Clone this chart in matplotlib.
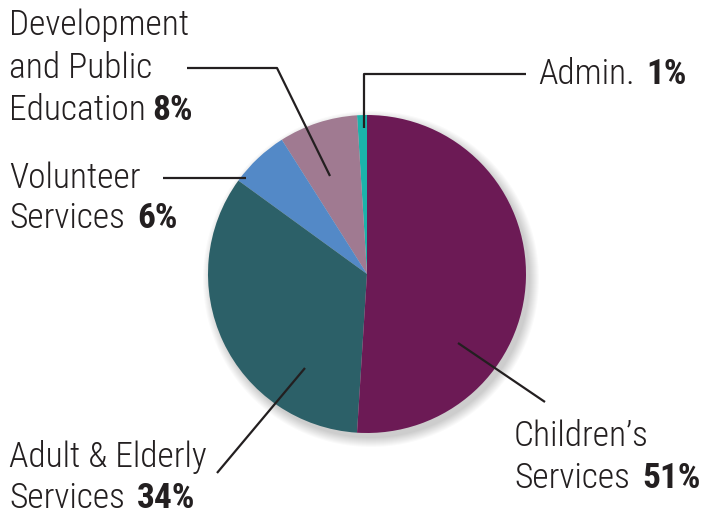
import matplotlib.pyplot as plt
from matplotlib.patches import Circle

# slices, counter-clockwise from 12 o'clock
labels = ["Admin.", "Development and Public Education", "Volunteer Services",
          "Adult & Elderly Services", "Children's Services"]
values = [1, 8, 6, 34, 51]
colors = ["#1bb3ab", "#a07a91", "#5389c7", "#2c6068", "#6c1a55"]

W, H = 709, 514
fig = plt.figure(figsize=(W / 100, H / 100), dpi=100)
ax = fig.add_axes([0, 0, 1, 1])

cx, cy, r = 367, H - 274, 159

# soft shadow down-right
for k in range(10):
    ax.add_patch(Circle((cx + 4, cy - 5), r + 9 - k, color="#000000",
                        alpha=0.02, lw=0, zorder=1))

ax.pie(values, colors=colors, startangle=90, counterclock=True,
       center=(cx, cy), radius=r, frame=True,
       wedgeprops=dict(linewidth=0, zorder=2))
ax.set_xlim(0, W)
ax.set_ylim(0, H)
ax.set_aspect("equal")
ax.axis("off")

fam = ["Roboto Condensed", "DejaVu Sans"]
fs = 25.5
lc = "#231f20"


def py(y):
    return H - y


def line(pts):
    xs = [p[0] for p in pts]
    ys = [py(p[1]) for p in pts]
    ax.plot(xs, ys, color=lc, lw=1.6, zorder=3, solid_capstyle="butt")


fig.canvas.draw()
rend = fig.canvas.get_renderer()


def label(x, y, first, pct, gap=8):
    t = ax.text(x, py(y), first, fontsize=fs, family=fam, color=lc,
                fontweight="light", va="center", ha="left")
    if pct:
        bb = t.get_window_extent(renderer=rend)
        x2 = ax.transData.inverted().transform((bb.x1, 0))[0]
        ax.text(x2 + gap, py(y), pct, fontsize=fs, family=fam, color=lc,
                fontweight="bold", va="center", ha="left")


# Admin
line([(364, 128), (364, 74), (526, 74)])
label(538, 74, "Admin.", "1%", gap=12)

# Development
line([(187, 68), (277, 68), (330, 176)])
label(9, 25, "Development", None)
label(9, 68, "and Public", None)
label(9, 110, "Education", "8%", gap=6)

# Volunteer
line([(163, 178), (246, 178)])
label(9, 178, "Volunteer", None)
label(9, 218, "Services", "6%", gap=12)

# Adult
line([(217, 473), (305, 368)])
label(9, 457, "Adult & Elderly", None)
label(9, 498, "Services", "34%", gap=12)

# Children
line([(458, 343), (545, 402)])
label(514, 436, "Children\u2019s", None)
label(514, 478, "Services", "51%", gap=12)

fig.savefig("out.png", dpi=100)
